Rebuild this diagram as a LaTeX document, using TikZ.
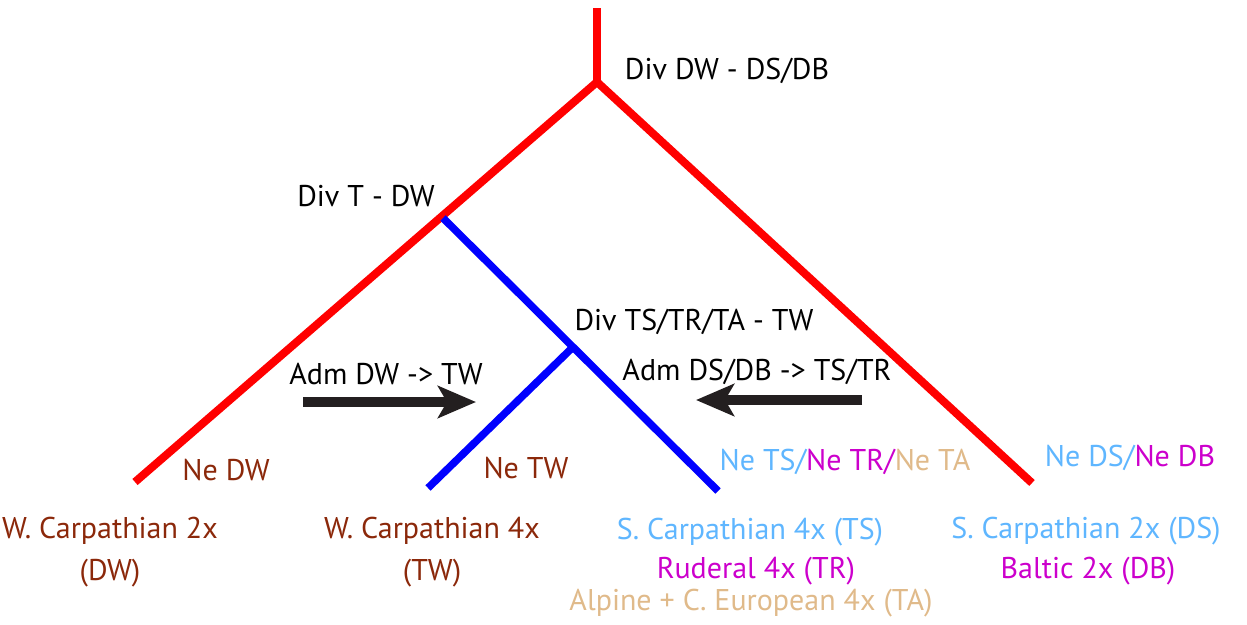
\documentclass[tikz,border=0pt]{standalone}
\usepackage{fontspec}
\setmainfont{PT Sans}
\usetikzlibrary{arrows.meta}
\definecolor{brn}{RGB}{139,40,10}
\definecolor{lblue}{RGB}{95,182,255}
\definecolor{mag}{RGB}{204,0,204}
\definecolor{tan}{RGB}{224,186,138}
\definecolor{arr}{RGB}{35,31,32}
\begin{document}
\begin{tikzpicture}[x=1pt,y=-1pt,
  redb/.style={draw=red,line width=8pt},
  blueb/.style={draw=blue,line width=7.5pt},
  lab/.style={font=\fontsize{30}{33}\selectfont,inner sep=0pt,anchor=center},
  fatarrow/.style={draw=arr,line width=9.5pt,-{Stealth[length=38pt,width=32pt,inset=9pt]}}]
\useasboundingbox (0,0) rectangle (1247,624);
% tree points
\coordinate (top) at (597,8);
\coordinate (root) at (597,82);
\coordinate (dw) at (135,482);
\coordinate (dsb) at (1032,483);
\coordinate (t) at (443,218);
\coordinate (ts) at (718,491);
\coordinate (tw0) at (572,348);
\coordinate (tw) at (428,488);
\draw[redb] (top) -- (root);
\draw[redb,line join=miter] (dw) -- (root) -- (dsb);
\draw[blueb] (t) -- (ts);
\draw[blueb] (tw0) -- (tw);
% admixture arrows
\coordinate (a1s) at (303,402);
\coordinate (a1e) at (476,402);
\coordinate (a2s) at (862,400);
\coordinate (a2e) at (696,400);
\draw[fatarrow] (a1s) -- (a1e);
\draw[fatarrow] (a2s) -- (a2e);
% labels
\node[lab] (l1) at (727,71) {Div DW - DS/DB};
\node[lab] (l2) at (366,196) {Div T - DW};
\node[lab] (l3) at (694,322) {Div TS/TR/TA - TW};
\node[lab] (l4) at (386,374) {Adm DW -> TW};
\node[lab] (l5) at (757,372) {Adm DS/DB -> TS/TR};
\node[lab,text=brn] (n1) at (226,470) {Ne DW};
\node[lab,text=brn] (n2) at (526,468) {Ne TW};
\node[lab] (n3) at (845,462) {\textcolor{lblue}{Ne TS/}\textcolor{mag}{Ne TR/}\textcolor{tan}{Ne TA}};
\node[lab] (n4) at (1130,458) {\textcolor{lblue}{Ne DS/}\textcolor{mag}{Ne DB}};
\node[lab,text=brn] (s1) at (110,531) {W. Carpathian 2x};
\node[lab,text=brn] (s1b) at (110,573) {(DW)};
\node[lab,text=brn] (s2) at (432,531) {W. Carpathian 4x};
\node[lab,text=brn] (s2b) at (432,573) {(TW)};
\node[lab,text=lblue] (s3) at (750,532) {S. Carpathian 4x (TS)};
\node[lab,text=mag] (s3b) at (756,571) {Ruderal 4x (TR)};
\node[lab,text=tan] (s3c) at (751,603) {Alpine + C. European 4x (TA)};
\node[lab,text=lblue] (s4) at (1086,531) {S. Carpathian 2x (DS)};
\node[lab,text=mag] (s4b) at (1088,571) {Baltic 2x (DB)};
\end{tikzpicture}
\end{document}
